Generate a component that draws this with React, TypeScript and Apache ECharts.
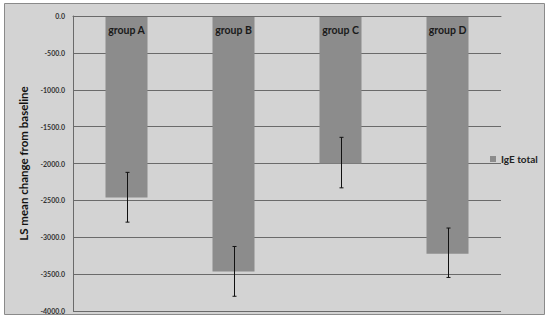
import React, { useEffect, useRef } from "react";
import * as echarts from "echarts";

const categories = ["group A", "group B", "group C", "group D"];
const meanChange = [-2460, -3465, -2000, -3225];
const errorLow = [-2795, -3800, -2330, -3545];
const errorHigh = [-2120, -3125, -1645, -2875];
const seriesName = "IgE total";

export default function App() {
  const ref = useRef<HTMLDivElement>(null);
  useEffect(() => {
    const chart = echarts.init(ref.current!, null, { renderer: "svg" });
    const font = "Lato, 'Open Sans', sans-serif";
    chart.setOption({
      animation: false,
      backgroundColor: "#ffffff",
      textStyle: { fontFamily: font },
      graphic: [
        {
          type: "rect",
          z: -10,
          silent: true,
          shape: { x: 4.5, y: 3.5, width: 540, height: 311 },
          style: { fill: "#d3d3d3", stroke: "#8a8a8a", lineWidth: 1 },
        },
      ],
      legend: {
        data: [seriesName],
        left: 490,
        top: 154,
        padding: 0,
        itemWidth: 6,
        itemHeight: 6,
        itemGap: 3,
        icon: "rect",
        textStyle: { fontSize: 10, fontWeight: "bold", color: "#222", fontFamily: font },
      },
      grid: { left: 73, right: 49, top: 16, bottom: 11, containLabel: false },
      xAxis: {
        type: "category",
        data: categories,
        position: "top",
        axisLine: { lineStyle: { color: "#6a6a6a", width: 1 } },
        axisTick: { inside: true, length: 4, lineStyle: { color: "#6a6a6a" } },
        axisLabel: {
          inside: true,
          margin: 8,
          fontSize: 10.5,
          fontWeight: "bold",
          color: "#1a1a1a",
          fontFamily: font,
        },
        z: 10,
      },
      yAxis: {
        type: "value",
        min: -4000,
        max: 0,
        interval: 500,
        name: "LS mean change from baseline",
        nameLocation: "middle",
        nameGap: 37,
        nameTextStyle: { fontSize: 11.5, fontWeight: "bold", color: "#111111", fontFamily: font },
        axisLine: { show: true, lineStyle: { color: "#6a6a6a" } },
        axisTick: { show: false },
        axisLabel: {
          fontSize: 7,
          fontWeight: "bold",
          color: "#333",
          margin: 8,
          formatter: (v: number) => v.toFixed(1),
        },
        splitLine: { lineStyle: { color: "#6a6a6a", width: 1 } },
      },
      series: [
        {
          name: seriesName,
          type: "bar",
          data: meanChange,
          barWidth: 42,
          itemStyle: { color: "#8c8c8c" },
        },
        {
          name: "err",
          type: "custom",
          data: categories.map((_, i) => [i, errorLow[i], errorHigh[i]]),
          renderItem: (params: any, api: any) => {
            const lo = api.coord([api.value(0), api.value(1)]);
            const hi = api.coord([api.value(0), api.value(2)]);
            const x = Math.round(lo[0]) + 0.5;
            const cap = 2;
            const style = { stroke: "#111", lineWidth: 1 };
            return {
              type: "group",
              children: [
                { type: "line", shape: { x1: x, y1: hi[1], x2: x, y2: lo[1] }, style },
                { type: "line", shape: { x1: x - cap, y1: hi[1], x2: x + cap, y2: hi[1] }, style },
                { type: "line", shape: { x1: x - cap, y1: lo[1], x2: x + cap, y2: lo[1] }, style },
              ],
            };
          },
          z: 5,
        },
      ],
    });
    return () => chart.dispose();
  }, []);
  return (
    <div
      ref={ref}
      style={{ position: "fixed", left: 0, top: 0, width: 550, height: 322 }}
    />
  );
}
